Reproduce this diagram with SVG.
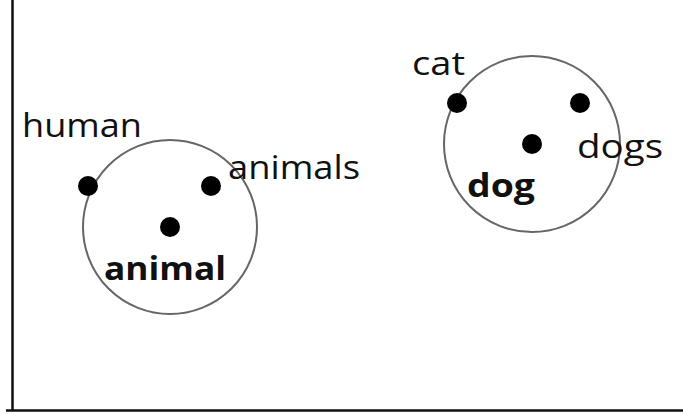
<svg xmlns="http://www.w3.org/2000/svg" width="683" height="414" viewBox="0 0 683 414">
<style>
.c{fill:none;stroke:#666;stroke-width:2}
.d{fill:#000}
.t{font-family:"Open Sans",sans-serif;font-size:33px;fill:#111}
.b{font-family:"Open Sans",sans-serif;font-size:33px;font-weight:bold;fill:#111}
.ax{stroke:#111;stroke-width:2.5;fill:none}
</style>
<rect width="683" height="414" fill="#fff"/>
<g id="axes" class="connectors">
<path class="ax" d="M12.5,0 V410.5 M6,410.5 H683"/>
</g>
<g id="animal-cluster">
<circle class="c" cx="170" cy="227" r="87"/>
<circle class="d" cx="88" cy="186" r="10"/>
<circle class="d" cx="211" cy="186" r="10"/>
<circle class="d" cx="170" cy="227" r="10"/>
<text class="t" x="22" y="137" textLength="120" lengthAdjust="spacingAndGlyphs">human</text>
<text class="t" x="228" y="179" textLength="132" lengthAdjust="spacingAndGlyphs">animals</text>
<text class="b" x="104" y="280" textLength="122" lengthAdjust="spacingAndGlyphs">animal</text>
</g>
<g id="dog-cluster">
<circle class="c" cx="532" cy="144" r="88"/>
<circle class="d" cx="457" cy="103" r="10"/>
<circle class="d" cx="580" cy="103" r="10"/>
<circle class="d" cx="532" cy="144" r="10"/>
<text class="t" x="412" y="75" textLength="53" lengthAdjust="spacingAndGlyphs">cat</text>
<text class="t" x="577" y="158" textLength="86" lengthAdjust="spacingAndGlyphs">dogs</text>
<text class="b" x="467" y="197" textLength="68" lengthAdjust="spacingAndGlyphs">dog</text>
</g>
</svg>
